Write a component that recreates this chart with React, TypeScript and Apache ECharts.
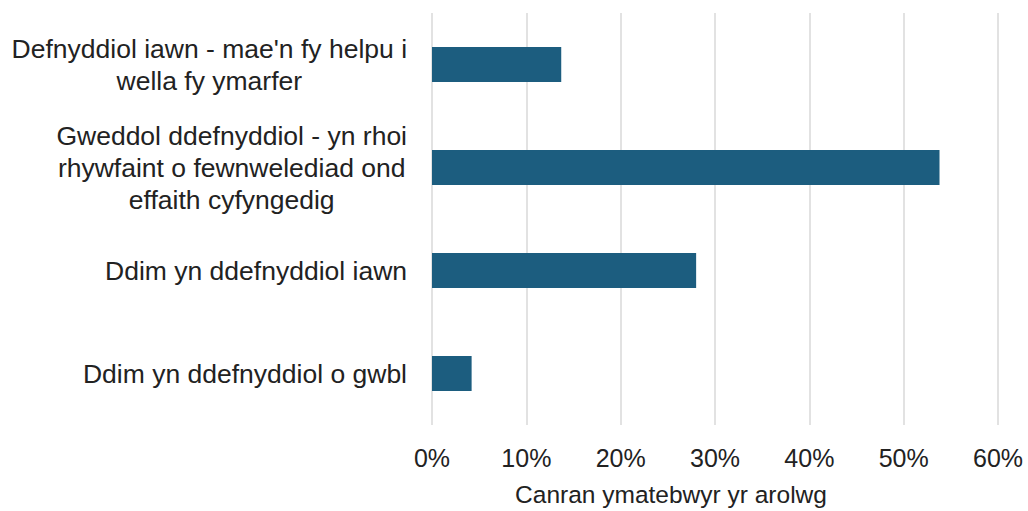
import React, { useEffect, useRef } from "react";
import * as echarts from "echarts";

const categories: string[] = [
  "Defnyddiol iawn - mae'n fy helpu i\nwella fy ymarfer",
  "Gweddol ddefnyddiol - yn rhoi\nrhywfaint o fewnwelediad ond\neffaith cyfyngedig",
  "Ddim yn ddefnyddiol iawn",
  "Ddim yn ddefnyddiol o gwbl",
];
const values: number[] = [13.7, 53.8, 28.0, 4.2];
const xTicks = { min: 0, max: 60, interval: 10 };
const axisTitle = "Canran ymatebwyr yr arolwg";

const FONT = "'Liberation Sans', Arial, sans-serif";
const TEXT = "#222222";

export default function App() {
  const ref = useRef<HTMLDivElement>(null);
  useEffect(() => {
    if (!ref.current) return;
    const chart = echarts.init(ref.current, undefined, { renderer: "svg" });
    chart.setOption({
      animation: false,
      backgroundColor: "#ffffff",
      textStyle: { fontFamily: FONT },
      grid: { left: 432, right: 30, top: 13, bottom: 86, containLabel: false },
      xAxis: {
        type: "value",
        min: xTicks.min,
        max: xTicks.max,
        interval: xTicks.interval,
        axisLine: { show: false },
        axisTick: { show: false },
        splitLine: { show: true, lineStyle: { color: "#d9d9d9", width: 1.5 } },
        axisLabel: {
          formatter: (v: number) => `${v}%`,
          fontSize: 25,
          color: TEXT,
          fontFamily: FONT,
          margin: 20,
        },
      },
      yAxis: {
        type: "category",
        inverse: true,
        data: categories,
        axisLine: { show: false },
        axisTick: { show: false },
        splitLine: { show: false },
        axisLabel: {
          margin: 25,
          align: "right",
          formatter: (v: string) =>
            v
              .split("\n")
              .map((l) => `{c|${l}}`)
              .join("\n"),
          rich: {
            c: {
              align: "center",
              fontSize: 26.5,
              lineHeight: 32,
              color: TEXT,
              fontFamily: FONT,
            },
          },
        },
      },
      series: [
        {
          type: "bar",
          data: values,
          barWidth: 35,
          itemStyle: { color: "#1c5d7f" },
        },
      ],
      graphic: [
        {
          type: "text",
          x: 671,
          y: 494,
          style: {
            text: axisTitle,
            fontSize: 24.5,
            fill: TEXT,
            fontFamily: FONT,
            align: "center",
            verticalAlign: "middle",
          },
        },
      ],
    });
    return () => chart.dispose();
  }, []);
  return <div ref={ref} style={{ width: 1028, height: 511, position: "fixed", left: 0, top: 0 }} />;
}
